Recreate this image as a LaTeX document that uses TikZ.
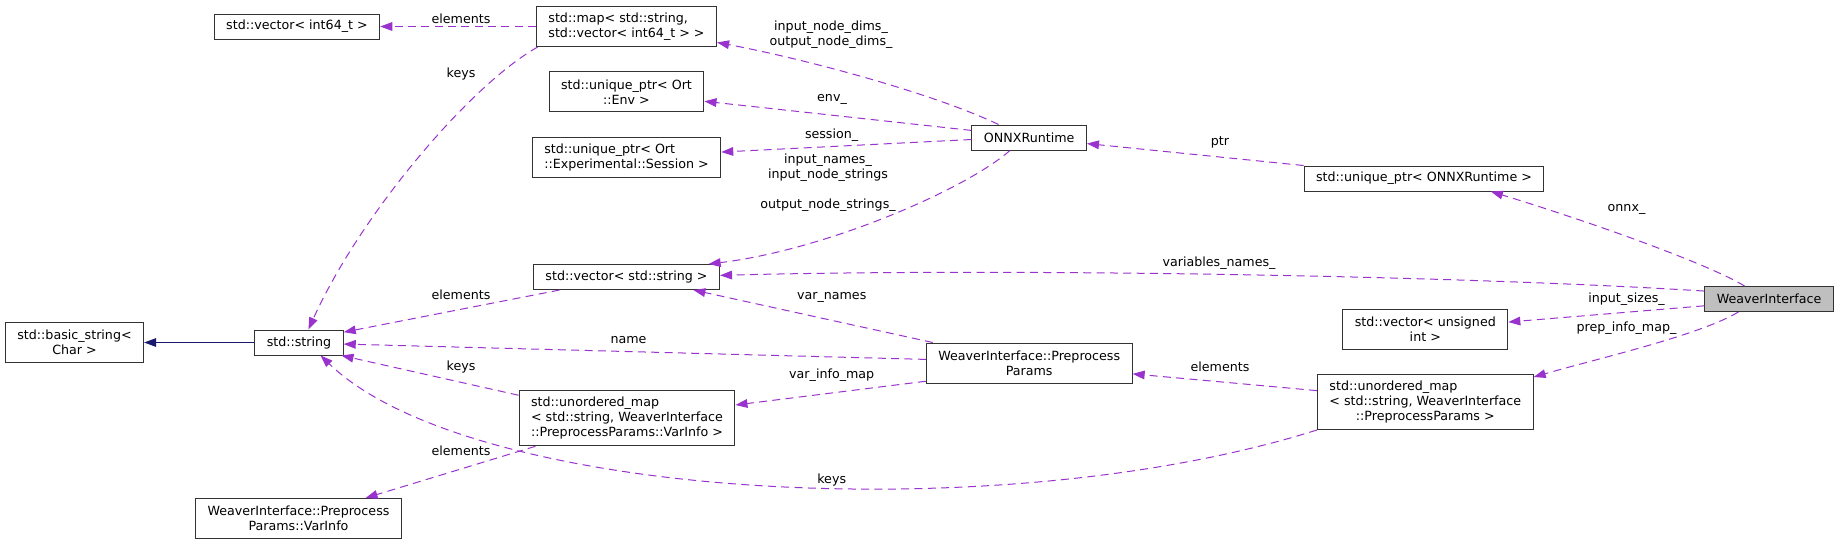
\documentclass[tikz,border=0pt]{standalone}
\usepackage{fontspec}
\setmainfont{DejaVu Sans}
\usepackage{xcolor}
\usetikzlibrary{arrows.meta}
\definecolor{edgepurple}{HTML}{9A32CD}
\definecolor{edgenavy}{HTML}{191970}
\newcommand{\dxfont}{\fontsize{9.5}{11.25}\selectfont}

\begin{document}
\begin{tikzpicture}[x=0.75pt, y=-0.75pt,
    cls/.style={draw=black!80, line width=0.75pt, fill=white, inner xsep=9pt, inner ysep=0pt,
        minimum height=18.75pt, align=center, font=\dxfont},
    cls2/.style={cls, minimum height=30pt},
    cls3/.style={cls, minimum height=41.25pt},
    lbl/.style={inner sep=0pt, align=center, font=\dxfont},
    uses/.style={draw=edgepurple, line width=0.75pt, dash pattern=on 6pt off 4pt,
        -{Triangle[length=9pt, width=6.5pt, fill=edgepurple]}},
    inherit/.style={draw=edgenavy, line width=0.75pt,
        -{Triangle[length=9pt, width=6.5pt, fill=edgenavy]}}]

    \useasboundingbox (0,0) rectangle (1840,544);

    \node[cls] (vecint) at (297,26.5) {std::vector< int64\_t >};
    \node[cls2, align=left] (map) at (626.5,26.5) {std::map< std::string,\\std::vector< int64\_t > >};
    \node[cls2] (env) at (626.5,91.7) {std::unique\_ptr< Ort\\::Env >};
    \node[cls2, align=left] (sess) at (626.5,157) {std::unique\_ptr< Ort\\::Experimental::Session >};
    \node[cls] (vecstr) at (626.5,277) {std::vector< std::string >};
    \node[cls] (onnx) at (1029.2,137.5) {ONNXRuntime};
    \node[cls] (uponnx) at (1424,178.5) {std::unique\_ptr< ONNXRuntime >};
    \node[cls, fill=black!25] (weaver) at (1769,299) {WeaverInterface};
    \node[cls2] (vecuns) at (1425.3,329.3) {std::vector< unsigned\\int >};
    \node[cls3] (umappp) at (1425.3,402) {\begin{tabular}{@{}l@{}}std::unordered\_map\\< std::string, WeaverInterface\\\multicolumn{1}{@{}c@{}}{::PreprocessParams >}\end{tabular}};
    \node[cls2] (basestr) at (74.5,342.5) {std::basic\_string<\\Char >};
    \node[cls] (str) at (299,342.5) {std::string};
    \node[cls2] (pp) at (1029.2,363) {WeaverInterface::Preprocess\\Params};
    \node[cls3, align=left] (umapvi) at (627,418.3) {std::unordered\_map\\< std::string, WeaverInterface\\::PreprocessParams::VarInfo >};
    \node[cls2] (varinfo) at (298.5,518.5) {WeaverInterface::Preprocess\\Params::VarInfo};

    \node[lbl] (lelemvec) at (461,18.5) {elements};
    \node[lbl] (lkeysmap) at (461,74) {keys};
    \node[lbl] (ldims) at (831,34.8) {input\_node\_dims\_\\output\_node\_dims\_};
    \node[lbl] (lenv) at (832,99) {env\_};
    \node[lbl] (lsess) at (831.6,135) {session\_};
    \node[lbl] (lnames) at (828,182.5) {input\_names\_\\input\_node\_strings\\[11.25pt]output\_node\_strings\_};
    \node[lbl] (lptr) at (1220,142.7) {ptr};
    \node[lbl] (lonnx) at (1626.5,209) {onnx\_};
    \node[lbl] (lvars) at (1219,263) {variables\_names\_};
    \node[lbl] (lsizes) at (1626.5,299) {input\_sizes\_};
    \node[lbl] (lprep) at (1626.5,328) {prep\_info\_map\_};
    \node[lbl] (lelempp) at (1220,367) {elements};
    \node[lbl] (lelemstr) at (461,295) {elements};
    \node[lbl] (lvarnames) at (831.7,297) {var\_names};
    \node[lbl] (lname) at (628.5,340) {name};
    \node[lbl] (lvarinfo) at (831.7,375) {var\_info\_map};
    \node[lbl] (lkeysvi) at (461,367) {keys};
    \node[lbl] (lelemvi) at (461,451) {elements};
    \node[lbl] (lkeyspp) at (831.7,480) {keys};

    \draw[uses] (map.west) -- (vecint.east);
    \draw[uses] (map.193) .. controls (470,85) and (360,215) .. (str.54);
    \draw[uses] (onnx.157) .. controls (930,92) and (800,58) .. (map.-10);
    \draw[uses] (onnx.173) -- (env.-7);
    \draw[uses] (onnx.182) -- (sess.3);
    \draw[uses] (onnx.214) .. controls (965,190) and (825,250) .. (vecstr.9);
    \draw[uses] (uponnx.north west) -- (onnx.-6);
    \draw[uses] (weaver.152) .. controls (1710,265) and (1600,225) .. (uponnx.-11);
    \draw[uses] (weaver.173) .. controls (1450,275) and (1000,268) .. (vecstr.1);
    \draw[uses] (weaver.186) -- (vecuns.5);
    \draw[uses] (weaver.203) .. controls (1700,335) and (1600,358) .. (umappp.13);
    \draw[uses] (vecstr.191) -- (str.13);
    \draw[uses] (pp.178) -- (str.-2);
    \draw[uses] (pp.168) -- (vecstr.-11);
    \draw[uses] (pp.190) -- (umapvi.7);
    \draw[uses] (umapvi.168) -- (str.-17);
    \draw[uses] (umapvi.197) -- (varinfo.17);
    \draw[uses] (umappp.174) -- (pp.-6);
    \draw[uses] (umappp.south west) .. controls (1000,530) and (470,500) .. (str.-31);
    \draw[inherit] (str.west) -- (basestr.east);
\end{tikzpicture}
\end{document}
